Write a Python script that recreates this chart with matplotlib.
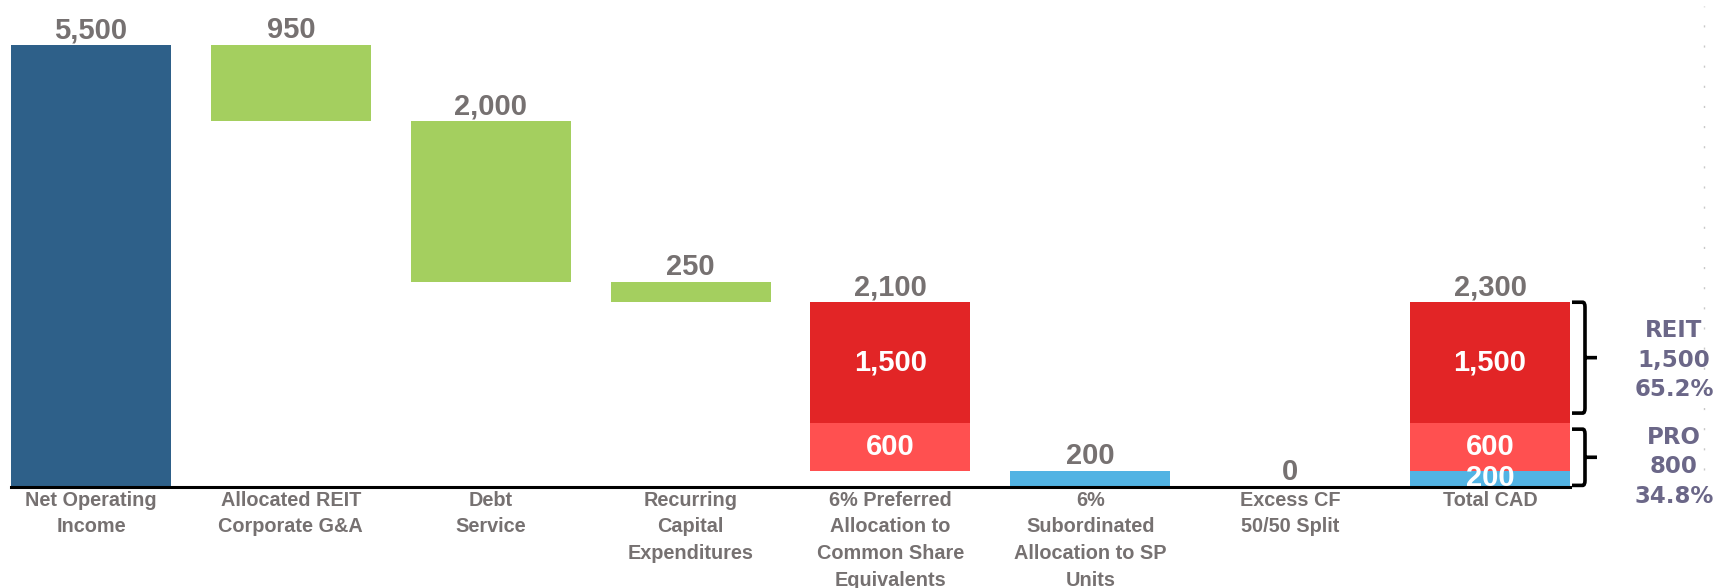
import matplotlib
matplotlib.use("Agg")
import matplotlib.pyplot as plt
from matplotlib.path import Path
from matplotlib.patches import PathPatch
from matplotlib.transforms import blended_transform_factory

# ---------------- data ----------------
categories = ["Net Operating\nIncome", "Allocated REIT\nCorporate G&A", "Debt\nService",
              "Recurring\nCapital\nExpenditures",
              "6% Preferred\nAllocation to\nCommon Share\nEquivalents",
              "6%\nSubordinated\nAllocation to SP\nUnits",
              "Excess CF\n50/50 Split", "Total CAD"]
noi = 5500
deductions = [950, 2000, 250]          # G&A, Debt Service, Capex
pref_reit = 1500                        # 6% preferred -> REIT share
pref_pro = 600                          # 6% preferred -> PRO share
subordinated = 200                      # 6% subordinated to SP units
excess = 0                              # excess CF 50/50 split

# colours
C_NAVY = "#2E6089"
C_GREEN = "#A4CF5F"
C_RED = "#E22526"
C_LRED = "#FF5050"
C_BLUE = "#52B3E3"
C_TEXT = "#767171"
C_PURP = "#6B6788"

plt.rcParams['font.family'] = ['Liberation Sans', 'DejaVu Sans']

fig = plt.figure(figsize=(17.17, 5.88), dpi=100)
ax = fig.add_axes([11 / 1717, 1 - 487 / 588, 1559 / 1717, 482 / 588])
ax.set_xlim(-0.4, 7.4)
ax.set_ylim(0, 6000)
ax.axis("off")

W = 0.8
LBL = dict(fontsize=21, fontweight="bold", ha="center", va="baseline")


def top_label(x, y, text):
    ax.annotate(text, (x, y), xytext=(0, 5), textcoords="offset points",
                color=C_TEXT, annotation_clip=False, **LBL)


def inner_label(x, y, text, clip=False):
    t = ax.text(x, y, text, color="white", fontsize=21, fontweight="bold",
                ha="center", va="center", zorder=4, clip_on=clip)
    return t


# NOI
ax.bar(0, noi, width=W, color=C_NAVY, zorder=2)
top_label(0, noi, f"{noi:,}")

# deductions
level = noi
for i, d in enumerate(deductions, start=1):
    ax.bar(i, d, bottom=level - d, width=W, color=C_GREEN, zorder=2)
    top_label(i, level, f"{d:,}")
    level -= d

# 6% preferred (stack: PRO bottom, REIT top)
pref_total = pref_reit + pref_pro
pref_bottom = level - pref_total
ax.bar(4, pref_pro, bottom=pref_bottom, width=W, color=C_LRED, zorder=2)
ax.bar(4, pref_reit, bottom=pref_bottom + pref_pro, width=W, color=C_RED, zorder=2)
top_label(4, level, f"{pref_total:,}")
inner_label(4, pref_bottom + pref_pro + pref_reit / 2, f"{pref_reit:,}")
inner_label(4, pref_bottom + pref_pro / 2, f"{pref_pro:,}")
level = pref_bottom

# 6% subordinated
ax.bar(5, subordinated, bottom=level - subordinated, width=W, color=C_BLUE, zorder=2)
top_label(5, level, f"{subordinated:,}")
level -= subordinated

# excess CF
ax.bar(6, excess, bottom=level, width=W, color=C_GREEN, zorder=2)
top_label(6, level + excess, f"{excess:,}")

# Total CAD
total = subordinated + pref_pro + pref_reit
ax.bar(7, subordinated, width=W, color=C_BLUE, zorder=2)
ax.bar(7, pref_pro, bottom=subordinated, width=W, color=C_LRED, zorder=2)
ax.bar(7, pref_reit, bottom=subordinated + pref_pro, width=W, color=C_RED, zorder=2)
top_label(7, total, f"{total:,}")
inner_label(7, subordinated + pref_pro + pref_reit / 2, f"{pref_reit:,}")
inner_label(7, subordinated + pref_pro / 2, f"{pref_pro:,}")
inner_label(7, subordinated / 2 + 10, f"{subordinated:,}", clip=True)

# baseline
ax.axhline(0, color="black", lw=2.2, zorder=5, clip_on=False)

# category labels
trans = blended_transform_factory(ax.transData, fig.transFigure)
for i, c in enumerate(categories):
    ax.text(i, 1 - 491 / 588, c, transform=trans, ha="center", va="top",
            fontsize=14.3, fontweight="bold", color=C_TEXT, linespacing=1.5,
            clip_on=False)


# braces on the right
def brace(y0, y1, x0=7.41, x1=7.475, xt=7.535):
    ym = (y0 + y1) / 2
    r = 0.012
    verts = [(x0, y1), (x1 - r, y1), (x1, y1), (x1, y1 - 60),
             (x1, ym), (x1, ym), (xt, ym), (x1, ym),
             (x1, y0 + 60), (x1, y0), (x1 - r, y0), (x0, y0)]
    codes = [Path.MOVETO, Path.LINETO, Path.CURVE3, Path.CURVE3,
             Path.LINETO, Path.MOVETO, Path.LINETO, Path.MOVETO,
             Path.LINETO, Path.CURVE3, Path.CURVE3, Path.LINETO]
    ax.add_patch(PathPatch(Path(verts, codes), fill=False, lw=2.6,
                           ec="black", clip_on=False, capstyle="butt"))


reit_share = pref_reit
pro_share = pref_pro + subordinated
brace(subordinated + pref_pro + 120, total)
brace(20, subordinated + pref_pro - 80)

ax.text(7.92, subordinated + pref_pro + pref_reit / 2 + 30,
        f"REIT\n{reit_share:,}\n{reit_share / total * 100:.1f}%",
        ha="center", va="center", fontsize=16.5, fontweight="bold",
        color=C_PURP, family="DejaVu Sans", linespacing=1.35, clip_on=False)
ax.text(7.92, 250,
        f"PRO\n{pro_share:,}\n{pro_share / total * 100:.1f}%",
        ha="center", va="center", fontsize=16.5, fontweight="bold",
        color=C_PURP, family="DejaVu Sans", linespacing=1.38, clip_on=False)

# faint dotted separator at far right
fig.add_artist(plt.Line2D([1704 / 1717, 1704 / 1717], [1 - 470 / 588, 1 - 6 / 588],
                          transform=fig.transFigure, color="#C8C8C8", lw=1,
                          linestyle=(0, (1.5, 13))))

fig.savefig("out.png", dpi=100, facecolor="white")
